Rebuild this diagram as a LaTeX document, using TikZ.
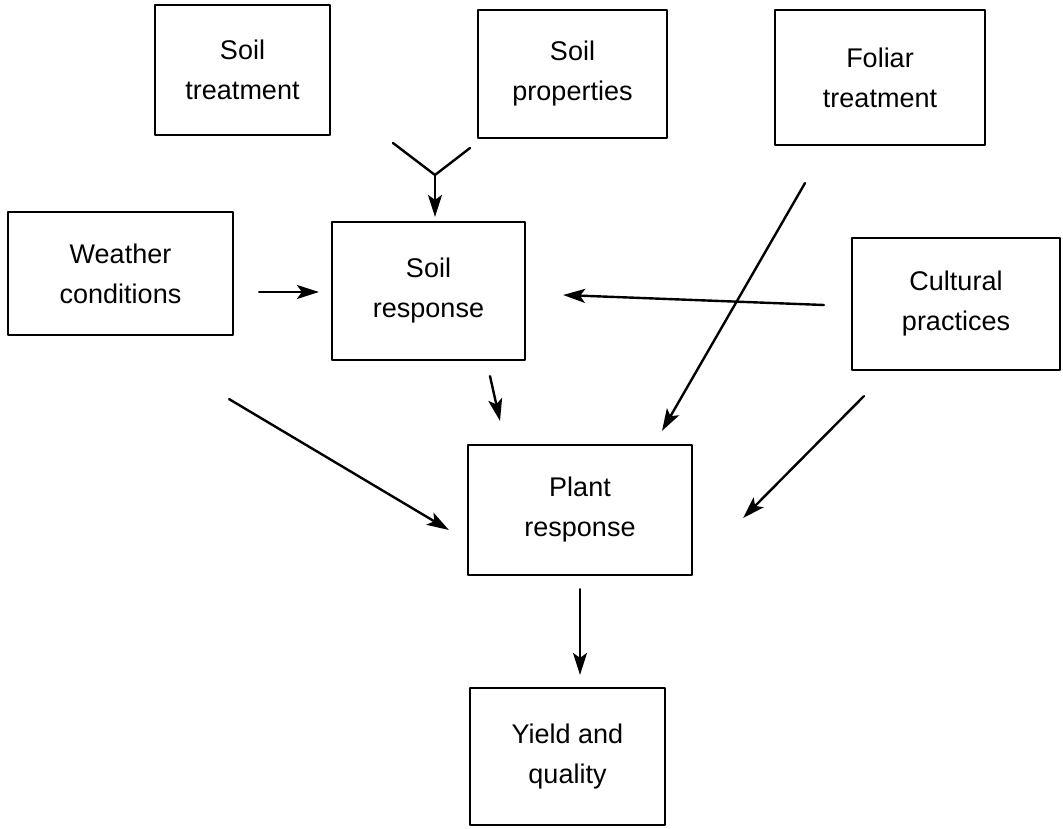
\documentclass[tikz,border=0pt]{standalone}
\usepackage{fontspec}
\setmainfont{Liberation Sans}
\usetikzlibrary{arrows.meta}
\tikzset{
  box/.style={draw, line width=2.2pt, align=center, inner sep=0pt,
    font=\fontsize{27}{40}\selectfont},
  arr/.style={line width=2.4pt, -{Stealth[length=22pt,width=14pt,inset=5pt]}},
}
\begin{document}
\begin{tikzpicture}[x=1pt, y=-1pt, line cap=round, line join=round]
    \useasboundingbox[fill=white] (0,0) rectangle (1063,829);
    % boxes
    \node[box, minimum width=175, minimum height=130] (st) at (242.5,70) {Soil\\treatment};
    \node[box, minimum width=189, minimum height=128] (sp) at (572.5,74) {Soil\\properties};
    \node[box, minimum width=210, minimum height=135] (ft) at (880,77.5) {Foliar\\treatment};
    \node[box, minimum width=225, minimum height=123] (wc) at (120.5,273.5) {Weather\\conditions};
    \node[box, minimum width=193, minimum height=138] (sr) at (428.5,291) {Soil\\response};
    \node[box, minimum width=208, minimum height=132] (cp) at (956,304) {Cultural\\practices};
    \node[box, minimum width=224, minimum height=130] (pr) at (580,510) {Plant\\response};
    \node[box, minimum width=195, minimum height=137] (yq) at (567.5,756.5) {Yield and\\quality};
    % soil treatment and properties join
    \coordinate (yl) at (393,143);
    \coordinate (yr) at (470,148);
    \coordinate (yj) at (435,175);
    \draw[line width=2.4pt] (yl) -- (yj) -- (yr);
    \draw[arr] (yj) -- ([shift={(6.5,-4)}]sr.north);
    % arrows
    \draw[arr] ([shift={(25,18.5)}]wc.east) -- ([shift={(-12,1)}]sr.west);
    \draw[arr] ([shift={(-27,1)}]cp.west) -- ([shift={(37,4)}]sr.east);
    \draw[arr] ([shift={(-75,37)}]ft.south) -- ([shift={(82,-13)}]pr.north);
    \draw[arr] ([shift={(61.5,15)}]sr.south) -- ([shift={(-80,-23)}]pr.north);
    \draw[arr] ([shift={(-5,63)}]wc.south east) -- ([shift={(-18,20)}]pr.west);
    \draw[arr] ([shift={(13,25)}]cp.south west) -- ([shift={(50,8)}]pr.east);
    \draw[arr] ([shift={(0,13)}]pr.south) -- ([shift={(12.5,-12)}]yq.north);
\end{tikzpicture}
\end{document}
